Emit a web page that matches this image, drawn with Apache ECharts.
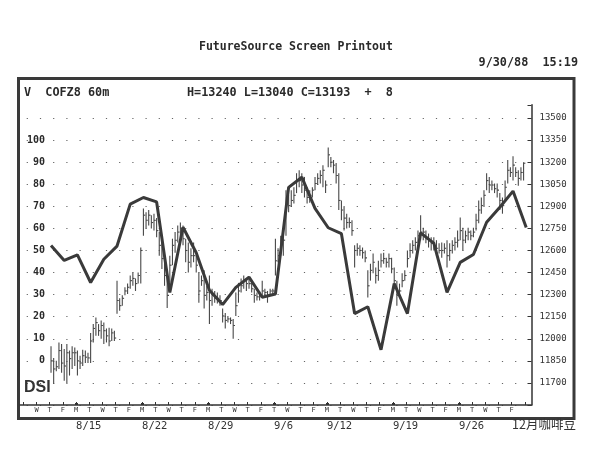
<!DOCTYPE html>
<html><head><meta charset="utf-8">
<script src="https://cdn.jsdelivr.net/npm/echarts@6/dist/echarts.min.js"></script>
<style>html,body{margin:0;padding:0;background:#fff}#c{width:589px;height:460px}</style>
</head><body><div id="c"></div>
<script>
// Trading days 8/10 .. 9/30/88 (index 0 = 8/10)
const dayLetters = ['W','T','F','M','T','W','T','F','M','T','W','T','F','M','T','W','T','F',
  'T','W','T','F','M','T','W','T','F','M','T','W','T','F','M','T','W','T','F'];
const dateDays = [3, 8, 13, 18, 22, 27, 32];
const dateLabels = ['8/15','8/22','8/29','9/6','9/12','9/19','9/26'];
const barsPerDay = 5;
const firstBarDay = 1; // 8/11

// 60-minute bars (price), 5 per day, 8/11 .. 9/30
const barHigh = [
 11950,11870,11850,11975,11965, 11930,11965,11920,11950,11940,
 11920,11885,11925,11920,11905, 12040,12100,12145,12100,12125,
 12110,12070,12075,12070,12055, 12395,12275,12295,12350,12375,
 12430,12450,12410,12450,12620, 12885,12860,12875,12840,12850,
 12820,12725,12655,12565,12450, 12565,12680,12725,12770,12790,
 12770,12680,12655,12615,12655, 12565,12450,12430,12465,12360,
 12430,12340,12325,12315,12295, 12205,12175,12155,12145,12135,
 12315,12380,12410,12430,12410, 12410,12380,12340,12315,12325,
 12395,12340,12325,12340,12340, 12680,12615,12700,12725,13010,
 12975,13010,13030,13125,13145, 13125,13100,13030,13010,13030,
 13100,13125,13145,13180,13075, 13300,13235,13215,13195,13125,
 12940,12895,12850,12825,12805, 12635,12650,12635,12620,12600,
 12465,12510,12580,12485,12530, 12580,12585,12550,12580,12550,
 12485,12395,12375,12445,12465, 12600,12650,12670,12690,12735,
 12840,12755,12735,12715,12690, 12690,12670,12650,12655,12650,
 12670,12650,12670,12690,12735, 12825,12755,12735,12755,12735,
 12755,12850,12940,12960,13010, 13125,13100,13075,13055,13055,
 12990,12960,13075,13215,13165, 13240,13165,13145,13165,13200
];
const barLow = [
 11770,11695,11780,11795,11770, 11715,11700,11750,11795,11815,
 11750,11795,11815,11835,11835, 11835,11975,12020,12020,12000,
 11965,11975,11950,11985,11985, 12170,12190,12225,12295,12305,
 12340,12360,12325,12375,12375, 12700,12750,12770,12750,12735,
 12690,12565,12475,12360,12210, 12380,12500,12585,12655,12680,
 12635,12520,12450,12485,12520, 12450,12245,12360,12205,12260,
 12100,12225,12245,12240,12225, 12110,12070,12110,12100,12000,
 12155,12245,12315,12340,12325, 12340,12315,12245,12260,12260,
 12295,12295,12245,12305,12295, 12430,12520,12565,12565,12700,
 12860,12895,12920,12990,13030, 12990,12960,12920,12925,12960,
 13010,13045,13055,13030,12990, 13165,13165,13125,13055,12875,
 12805,12735,12750,12755,12700, 12485,12565,12565,12545,12520,
 12280,12395,12445,12375,12395, 12485,12510,12485,12485,12445,
 12350,12225,12280,12350,12395, 12485,12550,12580,12600,12650,
 12670,12670,12650,12620,12600, 12600,12565,12580,12550,12580,
 12485,12530,12580,12600,12620, 12670,12600,12650,12670,12670,
 12690,12735,12785,12850,12895, 13010,12990,13010,12990,12960,
 12875,12850,12940,13055,13100, 13075,13100,13040,13075,13075
];
const barClose = [
 11850,11795,11810,11920,11835, 11815,11905,11865,11905,11905,
 11850,11835,11885,11875,11870, 11985,12070,12110,12055,12090,
 12055,12020,11985,12040,12005, 12260,12225,12275,12325,12350,
 12395,12410,12375,12430,12600, 12840,12805,12840,12790,12805,
 12735,12635,12545,12430,12295, 12500,12635,12670,12725,12750,
 12680,12600,12520,12565,12565, 12500,12325,12395,12295,12315,
 12260,12295,12275,12275,12260, 12155,12125,12135,12125,12090,
 12225,12325,12360,12395,12375, 12375,12340,12295,12285,12295,
 12325,12315,12295,12325,12325, 12530,12565,12670,12670,12940,
 12905,12940,12975,13075,13075, 13045,13010,12960,12975,13010,
 13055,13090,13110,13145,13045, 13250,13200,13180,13110,12940,
 12875,12820,12790,12790,12735, 12600,12615,12600,12585,12550,
 12360,12465,12520,12430,12465, 12530,12545,12520,12545,12475,
 12395,12295,12325,12395,12430, 12545,12600,12635,12655,12700,
 12725,12725,12680,12670,12650, 12635,12615,12600,12600,12615,
 12565,12600,12635,12655,12670, 12735,12670,12700,12725,12700,
 12725,12805,12875,12905,12975, 13075,13045,13045,13020,13010,
 12940,12905,13030,13145,13130, 13180,13130,13090,13130,13193
];
// DSI daily values (left scale), one per day boundary from 8/11
const dsi = [52.3,45.5,48,35.5,46,52,71,74,72,31,60.5,49,32,25.5,33.3,37.9,28.8,30.3,
  78.6,83.2,69.1,60.3,57.6,21.4,24.5,5,35,21.4,58,53.3,31,44.6,48.2,62.8,69.6,76.9,60.4];

const mono = 'DejaVu Sans Mono';
const ink = '#2a2a2a';
const tickDays = [];
for (let d = -1; d <= dayLetters.length; d++) tickDays.push(d);
const labelDays = dayLetters.map((_, i) => i);

const barData = barHigh.map((h, i) => [
  firstBarDay + Math.floor(i / barsPerDay) + ((i % barsPerDay) + 0.5) / barsPerDay,
  h, barLow[i], barClose[i]
]);
const dsiData = dsi.map((v, i) => [firstBarDay + i + 0.1, v]);

const chart = echarts.init(document.getElementById('c'));
chart.setOption({
  animation: false,
  backgroundColor: '#fff',
  title: [
    {text: 'FutureSource Screen Printout', left: 199, top: 41, padding: 0,
     textStyle: {fontFamily: mono, fontSize: 11.5, fontWeight: 'bold', color: ink}},
    {text: '9/30/88  15:19', right: 11, top: 57, padding: 0,
     textStyle: {fontFamily: mono, fontSize: 11.8, fontWeight: 'bold', color: ink}},
    {text: 'V  COFZ8 60m', left: 24, top: 87, padding: 0,
     textStyle: {fontFamily: mono, fontSize: 11.8, fontWeight: 'bold', color: ink}},
    {text: 'H=13240 L=13040 C=13193  +  8', left: 187, top: 87, padding: 0,
     textStyle: {fontFamily: mono, fontSize: 11.8, fontWeight: 'bold', color: ink}},
    {text: 'DSI', left: 24, top: 380, padding: 0,
     textStyle: {fontFamily: 'Liberation Sans', fontSize: 16, fontWeight: 'bold', color: '#333'}},
    {text: '12月咖啡豆', left: 512, top: 418, padding: 0,
     textStyle: {fontFamily: 'Noto Sans CJK SC', fontSize: 12.5, fontWeight: 'normal', color: '#333'}}
  ],
  graphic: [
    {type: 'rect', shape: {x: 18.5, y: 78.5, width: 555.5, height: 340},
     style: {fill: null, stroke: '#3a3a3a', lineWidth: 3}, silent: true}
  ],
  grid: {left: 20, right: 57.5, top: 104.8, bottom: 55, containLabel: false, outerBoundsMode: 'none'},
  xAxis: [
    {type: 'value', min: -1.25, max: 37.5, position: 'bottom',
     axisLine: {show: true, onZero: false, lineStyle: {color: '#333', width: 1.5}},
     axisTick: {show: true, inside: true, length: 3, customValues: tickDays, lineStyle: {color: '#333'}},
     axisLabel: {customValues: labelDays, margin: 2, fontSize: 7, fontFamily: mono, color: '#333',
       formatter: v => dayLetters[Math.round(v)] || ''},
     splitLine: {show: false}},
    {type: 'value', min: -1.25, max: 37.5, position: 'bottom',
     axisLine: {show: false, onZero: false},
     axisTick: {show: true, inside: true, length: 2, customValues: dateDays, lineStyle: {color: '#333', width: 3}},
     axisLabel: {customValues: dateDays, margin: 16, align: 'left', fontSize: 10.5, fontFamily: mono, color: '#333',
       formatter: v => dateLabels[dateDays.indexOf(Math.round(v))] || ''},
     splitLine: {show: false}}
  ],
  yAxis: [
    {type: 'value', position: 'left', min: -20, max: 116, interval: 10,
     axisLine: {show: false, onZero: false}, axisTick: {show: false},
     axisLabel: {inside: true, margin: 25, align: 'right', fontSize: 10, fontWeight: 'bold', fontFamily: mono, color: ink,
       formatter: v => (v >= 0 && v <= 100) ? String(v) : ''},
     splitLine: {show: true, showMaxLine: false,
       lineStyle: {color: '#666', width: 1.2, type: [1.2, 12], dashOffset: 6.5}}},
    {type: 'value', position: 'right', min: 11550, max: 13590, interval: 150,
     axisLine: {show: true, onZero: false, lineStyle: {color: '#333', width: 1.5}},
     axisTick: {show: true, inside: true, length: 4, lineStyle: {color: '#333'}},
     axisLabel: {margin: 8, fontSize: 9, fontFamily: mono, color: '#333',
       formatter: v => (v >= 11700 && v <= 13500) ? String(v) : ''},
     splitLine: {show: false}}
  ],
  series: [
    {type: 'custom', name: 'bars', xAxisIndex: 0, yAxisIndex: 1, data: barData,
     encode: {x: 0, y: [1, 2, 3]},
     renderItem: function (params, api) {
       const x = api.value(0);
       const hi = api.coord([x, api.value(1)]);
       const lo = api.coord([x, api.value(2)]);
       const cl = api.coord([x, api.value(3)]);
       return {type: 'group', children: [
         {type: 'line', shape: {x1: hi[0], y1: hi[1], x2: lo[0], y2: lo[1]}, style: {stroke: '#484848', lineWidth: 1.1}},
         {type: 'line', shape: {x1: cl[0], y1: cl[1], x2: cl[0] + 1.8, y2: cl[1]}, style: {stroke: '#484848', lineWidth: 1.1}}
       ]};
     }},
    {type: 'line', name: 'DSI', xAxisIndex: 0, yAxisIndex: 0, data: dsiData,
     showSymbol: false, symbol: 'none', smooth: false,
     lineStyle: {color: '#3a3a3a', width: 3}, z: 3}
  ]
});
</script>
</body></html>
